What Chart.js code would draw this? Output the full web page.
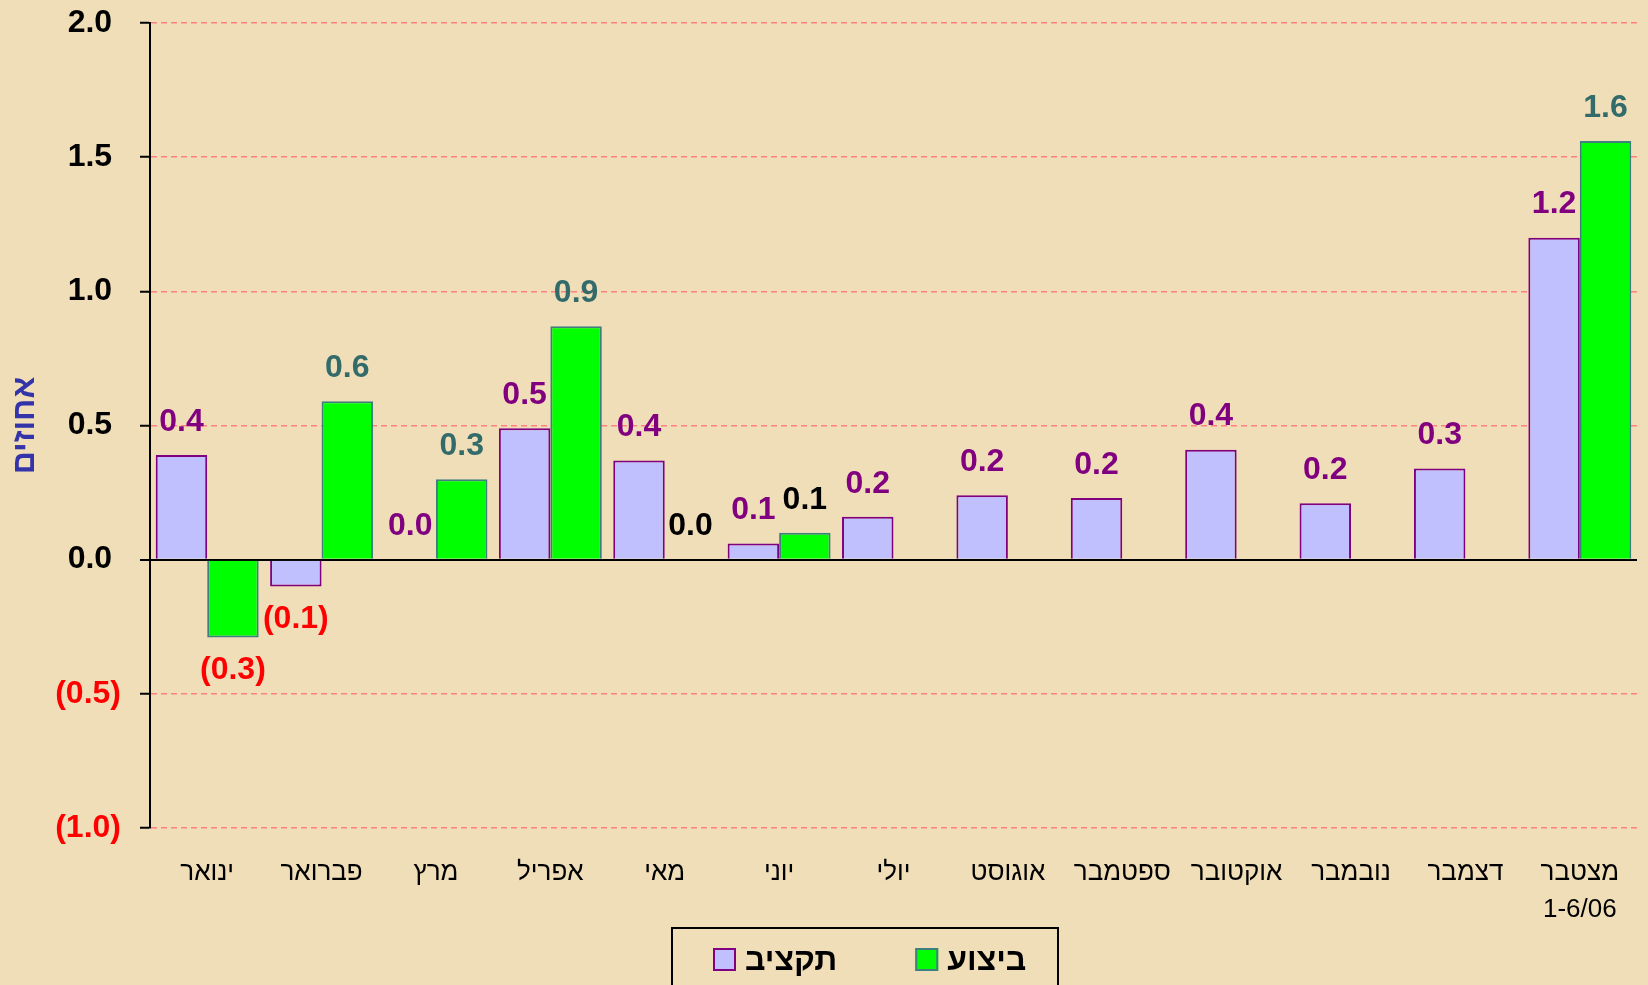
<!DOCTYPE html>
<html>
<head>
    <meta charset="UTF-8">
    <title>תקציב מול ביצוע</title>
    <script src="https://cdn.jsdelivr.net/npm/chart.js"></script>
    <style>
        body { margin: 0; background: #F0DEB8; }
        canvas { display: block; }
    </style>
</head>
<body>
    <canvas id="myChart" width="1648" height="985"></canvas>

    <script>
        // data
        const months = ['ינואר', 'פברואר', 'מרץ', 'אפריל', 'מאי', 'יוני', 'יולי',
            'אוגוסט', 'ספטמבר', 'אוקטובר', 'נובמבר', 'דצמבר', ['מצטבר', '1-6/06']];
        const budget = [0.39, -0.1, 0.0, 0.49, 0.37, 0.06, 0.16, 0.24, 0.23, 0.41, 0.21, 0.34, 1.2];
        const actual = [-0.29, 0.59, 0.3, 0.87, 0.0, 0.1, null, null, null, null, null, null, 1.56];
        const seriesNames = ['תקציב', 'ביצוע'];

        const FONT = "'Liberation Sans', Arial, sans-serif";
        // actual-series labels that are printed in black in the original
        const blackLabels = [4, 5];

        function fmt(v) {
            return v < 0 ? '(' + Math.abs(v).toFixed(1) + ')' : v.toFixed(1);
        }

        const background = {
            id: 'background',
            beforeDraw(chart) {
                const c = chart.ctx;
                c.save();
                c.fillStyle = '#F0DEB8';
                c.fillRect(0, 0, chart.width, chart.height);
                c.restore();
            }
        };

        const valueLabels = {
            id: 'valueLabels',
            afterDatasetsDraw(chart) {
                const c = chart.ctx;
                c.save();
                c.font = 'bold 32px ' + FONT;
                c.textAlign = 'center';
                c.textBaseline = 'middle';
                chart.data.datasets.forEach((ds, di) => {
                    chart.getDatasetMeta(di).data.forEach((bar, i) => {
                        const v = ds.data[i];
                        if (v === null) return;
                        let color = ds.labelColor;
                        if (v < 0) color = '#FF0000';
                        else if (di === 1 && blackLabels.includes(i)) color = '#000000';
                        c.fillStyle = color;
                        const y = v < 0 ? bar.y + 33 : bar.y - 33;
                        c.fillText(fmt(v), bar.x, y);
                    });
                });
                c.restore();
            }
        };

        // boxed legend at the bottom, like the original
        const boxLegend = {
            id: 'boxLegend',
            afterDraw(chart) {
                const c = chart.ctx;
                c.save();
                c.strokeStyle = '#000';
                c.lineWidth = 2;
                c.strokeRect(672, 928, 386, 80);
                c.font = 'bold 32px ' + FONT;
                c.textBaseline = 'middle';
                c.textAlign = 'left';
                let x = 713;
                chart.data.datasets.forEach((ds) => {
                    c.fillStyle = ds.backgroundColor;
                    c.fillRect(x, 948, 23, 23);
                    c.strokeStyle = ds.borderColor;
                    c.lineWidth = 2;
                    c.strokeRect(x + 1, 949, 21, 21);
                    c.fillStyle = '#000';
                    c.fillText(ds.label, x + 32, 961);
                    x += 32 + c.measureText(ds.label).width + 78;
                });
                c.restore();
            }
        };

        const ctx = document.getElementById('myChart').getContext('2d');
        new Chart(ctx, {
            type: 'bar',
            data: {
                labels: months,
                datasets: [{
                    label: seriesNames[0],
                    data: budget,
                    backgroundColor: '#C0C0FF',
                    borderColor: '#800080',
                    borderWidth: 2,
                    labelColor: '#800080'
                }, {
                    label: seriesNames[1],
                    data: actual,
                    backgroundColor: '#00FF00',
                    borderColor: '#3F7F7F',
                    borderWidth: 2,
                    labelColor: '#336B6B'
                }]
            },
            options: {
                responsive: false,
                animation: false,
                layout: { padding: { top: 23, right: 11, left: 0, bottom: 48 } },
                datasets: { bar: { categoryPercentage: 0.9, barPercentage: 1.0 } },
                plugins: {
                    legend: { display: false },
                    tooltip: { enabled: false }
                },
                scales: {
                    x: {
                        grid: { display: false, drawTicks: false },
                        border: { display: false },
                        ticks: {
                            color: '#000',
                            font: { family: FONT, size: 26, lineHeight: 1.42 },
                            padding: 26,
                            maxRotation: 0,
                            autoSkip: false
                        },
                        afterFit(scale) { scale.height = 109; }
                    },
                    y: {
                        min: -1,
                        max: 2,
                        ticks: {
                            stepSize: 0.5,
                            padding: 19,
                            font: { family: FONT, size: 32, weight: 'bold' },
                            color: (c) => c.tick && c.tick.value < 0 ? '#FF0000' : '#000000',
                            callback: (v) => v < 0 ? fmt(v) : fmt(v) + ' '
                        },
                        grid: {
                            color: (c) => c.tick && c.tick.value === 0 ? '#000000' : '#FF8080',
                            lineWidth: (c) => c.tick && c.tick.value === 0 ? 2 : 1.5,
                            tickColor: '#000000',
                            tickLength: 10,
                            tickWidth: 2,
                            tickBorderDash: []
                        },
                        border: {
                            color: '#000000',
                            width: 2,
                            dash: (c) => c.tick && c.tick.value === 0 ? [] : [6, 4]
                        },
                        title: {
                            display: true,
                            text: 'אחוזים',
                            color: '#3333AA',
                            font: { family: FONT, size: 32, weight: 'bold' },
                            padding: { top: 6, bottom: 0 }
                        },
                        afterFit(scale) {
                            scale.width = 150;
                            scale.paddingTop = 0;
                            scale.paddingBottom = 0;
                        }
                    }
                }
            },
            plugins: [background, valueLabels, boxLegend]
        });
    </script>
</body>
</html>
